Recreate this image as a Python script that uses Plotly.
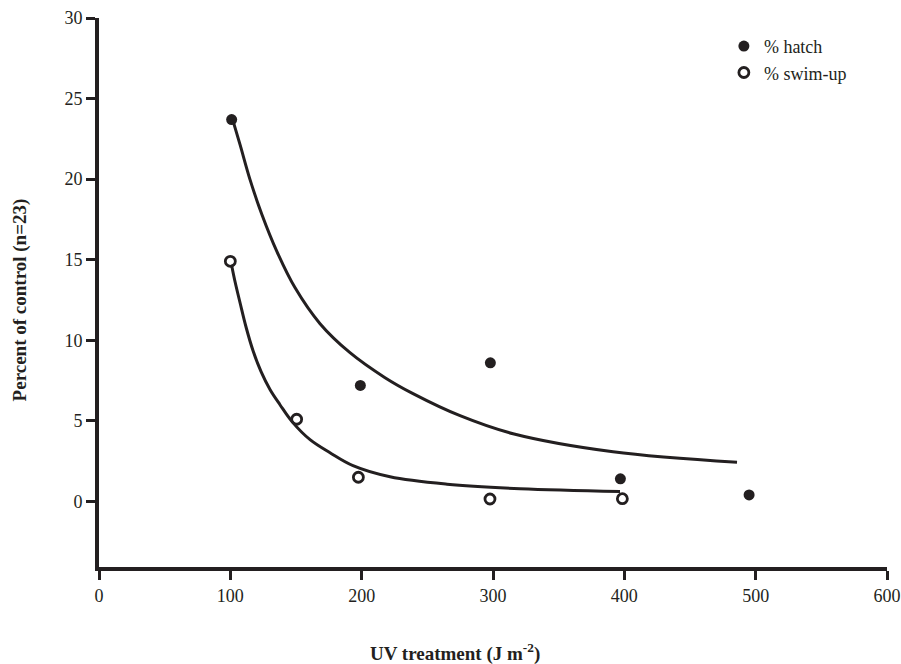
import plotly.graph_objects as go

# Measured points
hatch_x = [101, 199, 298, 397, 495]
hatch_y = [23.7, 7.2, 8.6, 1.4, 0.4]
swim_x = [100, 150.5, 197.5, 297.7, 398.5]
swim_y = [14.9, 5.1, 1.5, 0.15, 0.17]

# Fitted curves
hatch_fit_x = [102.0, 107.4, 115.0, 124.1, 135.5, 149.2, 168.3, 191.1, 217.8, 239.1, 274.9, 315.3, 391.4, 485.8]
hatch_fit_y = [23.63, 22.14, 19.97, 17.79, 15.50, 13.27, 11.03, 9.23, 7.68, 6.69, 5.32, 4.20, 3.08, 2.43]
swim_fit_x = [100.9, 103.6, 107.4, 111.9, 117.3, 123.4, 130.3, 137.8, 147.0, 160.7, 175.9, 193.4, 221.6, 265.0, 320.6, 396.7]
swim_fit_y = [14.69, 13.63, 12.33, 10.84, 9.35, 8.05, 6.93, 6.00, 4.95, 3.83, 3.02, 2.22, 1.53, 1.07, 0.79, 0.62]

x_ticks = [0, 100, 200, 300, 400, 500, 600]
y_ticks = [0, 5, 10, 15, 20, 25, 30]

INK = "#231f20"
FONT = "Liberation Serif"

fig = go.Figure()
fig.add_trace(go.Scatter(x=hatch_fit_x, y=hatch_fit_y, mode="lines", line=dict(color=INK, width=3, shape="spline"),
                         showlegend=False, hoverinfo="skip"))
fig.add_trace(go.Scatter(x=swim_fit_x, y=swim_fit_y, mode="lines", line=dict(color=INK, width=3, shape="spline"),
                         showlegend=False, hoverinfo="skip"))
fig.add_trace(go.Scatter(x=hatch_x, y=hatch_y, mode="markers", name="% hatch",
                         marker=dict(symbol="circle", size=11, color=INK)))
fig.add_trace(go.Scatter(x=swim_x, y=swim_y, mode="markers", name="% swim-up",
                         marker=dict(symbol="circle-open", size=10, color=INK, line=dict(width=2.8, color=INK))))

fig.update_layout(
    width=901, height=664,
    margin=dict(l=99, r=14, t=18, b=97, autoexpand=False),
    plot_bgcolor="white", paper_bgcolor="white",
    font=dict(family=FONT, color=INK, size=18),
    legend=dict(x=0.793, y=0.982, xanchor="left", yanchor="top", bgcolor="rgba(0,0,0,0)",
                font=dict(family=FONT, size=18, color=INK), tracegroupgap=0),
    annotations=[
        dict(text="UV treatment (J m<sup>-2</sup>)", x=0.452, y=-0.155, xref="paper", yref="paper",
             showarrow=False, font=dict(family=FONT, size=19, color=INK, weight="bold"), xanchor="center", yanchor="middle"),
        dict(text="Percent of control (n=23)", x=-0.100, y=0.486, xref="paper", yref="paper", textangle=-90,
             showarrow=False, font=dict(family=FONT, size=19, color=INK, weight="bold"), xanchor="center", yanchor="middle"),
    ],
)
fig.update_xaxes(range=[0, 600], tickvals=x_ticks, ticktext=[str(v) for v in x_ticks], showgrid=False, zeroline=False,
                 showline=True, linecolor=INK, linewidth=4, ticks="outside", ticklen=9, tickwidth=3, tickcolor=INK,
                 tickfont=dict(family=FONT, size=18, color=INK), automargin=False)
fig.update_yaxes(range=[-4.07, 30], tickvals=y_ticks, ticktext=[str(v) for v in y_ticks], showgrid=False, zeroline=False,
                 showline=True, linecolor=INK, linewidth=4, ticks="outside", ticklen=9, tickwidth=3, tickcolor=INK,
                 tickfont=dict(family=FONT, size=18, color=INK), automargin=False)

fig.write_html("out.html", config={"displayModeBar": False},
               post_script="document.body.style.margin='0';document.body.style.padding='0';")
